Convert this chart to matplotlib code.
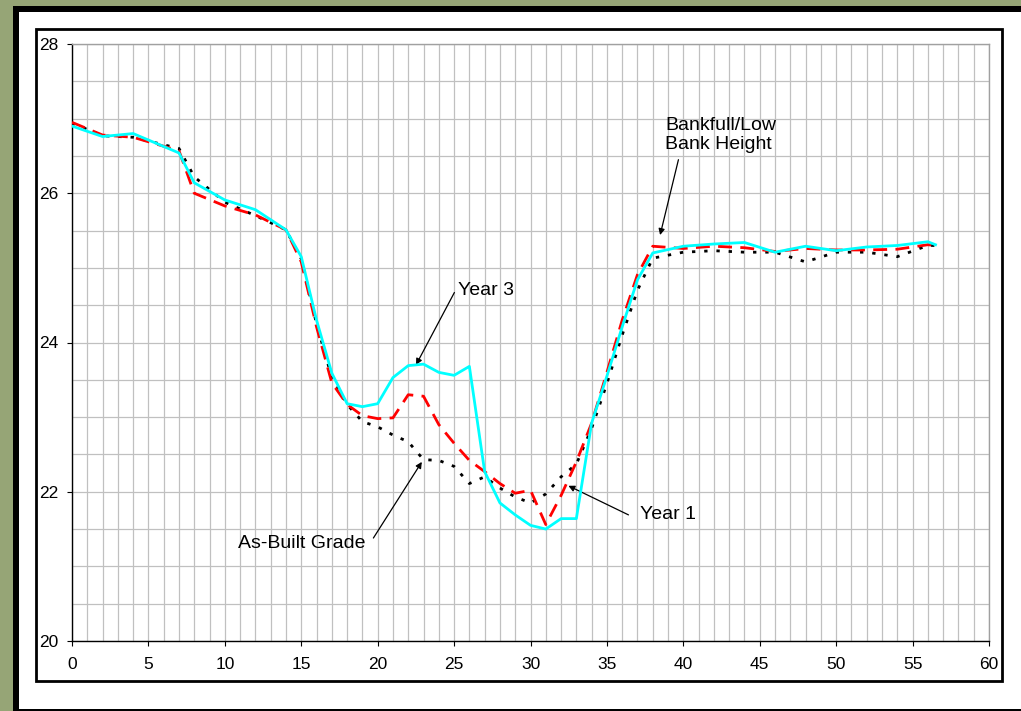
import matplotlib
matplotlib.use("Agg")
import matplotlib.pyplot as plt
from matplotlib.patches import Rectangle
from matplotlib.ticker import MultipleLocator

plt.rcParams['font.family'] = ['Liberation Sans', 'DejaVu Sans']

# Survey stations (distance across the channel) and elevations
station = [0, 2, 4, 7, 8, 10, 12, 14, 15, 16, 17, 18, 19, 20, 21, 22, 23, 24,
           25, 26, 27, 28, 29, 30, 31, 32, 33, 34, 35, 36, 37, 38, 40, 42, 44,
           46, 48, 50, 52, 54, 56, 56.5]

as_built = [26.94, 26.77, 26.75, 26.60, 26.22, 25.88, 25.70, 25.51, 25.12, 24.25,
            23.53, 23.17, 22.94, 22.87, 22.76, 22.67, 22.43, 22.42, 22.34, 22.11,
            22.20, 22.05, 21.93, 21.85, 21.97, 22.20, 22.37, 22.85, 23.45, 24.10,
            24.70, 25.13, 25.21, 25.23, 25.21, 25.21, 25.08, 25.21, 25.21, 25.15,
            25.30, 25.30]

year1 = [26.95, 26.78, 26.75, 26.57, 26.00, 25.83, 25.71, 25.51, 25.08, 24.21,
         23.46, 23.17, 23.02, 22.98, 22.99, 23.30, 23.28, 22.90, 22.65, 22.42,
         22.27, 22.11, 21.98, 22.02, 21.56, 21.95, 22.40, 22.92, 23.60, 24.30,
         24.91, 25.29, 25.26, 25.29, 25.27, 25.22, 25.26, 25.24, 25.24, 25.25,
         25.31, 25.30]

year3 = [26.90, 26.76, 26.80, 26.54, 26.14, 25.91, 25.78, 25.51, 25.15, 24.30,
         23.59, 23.18, 23.14, 23.18, 23.53, 23.69, 23.71, 23.60, 23.56, 23.68,
         22.27, 21.85, 21.69, 21.55, 21.50, 21.64, 21.64, 22.92, 23.55, 24.21,
         24.84, 25.20, 25.29, 25.32, 25.34, 25.21, 25.29, 25.23, 25.28, 25.30,
         25.35, 25.31]

W, H = 1021, 711
fig = plt.figure(figsize=(W / 100, H / 100), dpi=100)
fig.patch.set_facecolor('#96A576')


def px_rect(x0, y0, x1, y1, z, **kw):
    """Rectangle given in pixel coordinates (origin top-left)."""
    return Rectangle((x0 / W, 1 - y1 / H), (x1 - x0) / W, (y1 - y0) / H,
                     transform=fig.transFigure, zorder=z, **kw)


# Outer black border and white panel
fig.patches.append(px_rect(13, 6, W + 2, H + 2, -3, facecolor='black', edgecolor='none'))
fig.patches.append(px_rect(19, 12, W + 2, 709, -2, facecolor='white', edgecolor='none'))
# Inner chart frame
fig.patches.append(px_rect(36, 29, 1001.5, 680.5, -1, facecolor='none',
                           edgecolor='black', linewidth=2.0))

ax = fig.add_axes([72 / W, 1 - 641 / H, (989 - 72) / W, (641 - 44) / H])
ax.set_facecolor('white')

ax.plot(station, as_built, color='black', lw=2.0, linestyle=(0, (1.2, 3.2)),
        zorder=3)
ax.plot(station, year1, color='#FF0000', lw=2.0, linestyle=(0, (5, 3)),
        zorder=4)
ax.plot(station, year3, color='#00FFFF', lw=2.0, zorder=5)

ax.set_xlim(0, 60)
ax.set_ylim(20, 28)
ax.xaxis.set_major_locator(MultipleLocator(5))
ax.xaxis.set_minor_locator(MultipleLocator(1))
ax.yaxis.set_major_locator(MultipleLocator(2))
ax.yaxis.set_minor_locator(MultipleLocator(0.5))
ax.grid(which='both', color='#C0C0C0', linewidth=0.9, zorder=0)
ax.set_axisbelow(True)

ax.tick_params(which='major', direction='out', length=3.6, width=0.8,
               labelsize=12.5, colors='black')
ax.tick_params(axis='x', which='major', pad=8)
ax.tick_params(axis='y', which='major', pad=6)
ax.tick_params(which='minor', length=0)

for s in ('left', 'bottom'):
    ax.spines[s].set_color('black')
    ax.spines[s].set_linewidth(1.0)
for s in ('top', 'right'):
    ax.spines[s].set_color('#A0A0A0')
    ax.spines[s].set_linewidth(1.0)

arrow = dict(arrowstyle='-|>', color='black', lw=0.9, mutation_scale=9,
             shrinkA=0, shrinkB=0)
note_size = 14

ax.annotate('', xy=(38.48, 25.44), xytext=(39.68, 26.45), arrowprops=arrow)
ax.text(38.8, 26.59, 'Bankfull/Low\nBank Height', fontsize=note_size, ha='left',
        va='baseline', linespacing=1.2)

ax.annotate('', xy=(22.51, 23.70), xytext=(25.02, 24.67), arrowprops=arrow)
ax.text(25.28, 24.64, 'Year 3', fontsize=note_size, ha='left', va='baseline')

ax.annotate('', xy=(22.89, 22.40), xytext=(19.72, 21.38), arrowprops=arrow)
ax.text(10.89, 21.25, 'As-Built Grade', fontsize=note_size, ha='left', va='baseline')

ax.annotate('', xy=(32.48, 22.08), xytext=(36.41, 21.69), arrowprops=arrow)
ax.text(37.17, 21.63, 'Year 1', fontsize=note_size, ha='left', va='baseline')

fig.savefig('out.png', dpi=100, facecolor=fig.get_facecolor())
